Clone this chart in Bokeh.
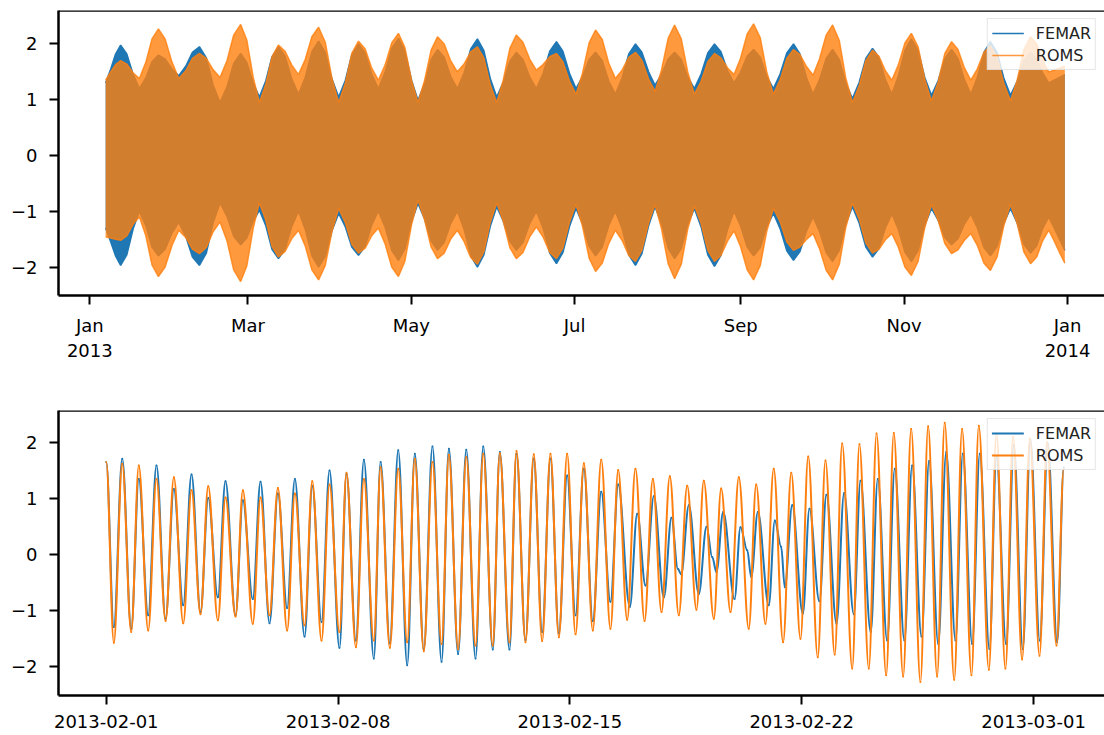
from bokeh.plotting import figure
from bokeh.layouts import column
from bokeh.models import FixedTicker, CustomJSTickFormatter, Range1d, Legend, LegendItem, Span
from bokeh.embed import file_html
from bokeh.resources import INLINE

# ---------------- top panel: whole year 2013 (day of year, 0 = 1 Jan 2013)
# envelopes (highest / lowest water) of the tidal signal
env_days = [5.9, 7.8, 9.6, 11.5, 13.8, 16.2, 18.5, 20.9, 23.2, 25.6, 28.1, 30.7,
            33.2, 35.8, 38.3, 40.9, 43.5, 46.0, 48.6, 51.2, 53.7, 56.3, 58.6, 61.0,
            63.3, 65.7, 68.0, 70.4, 72.9, 75.4, 77.9, 80.4, 82.9, 85.4, 87.9, 90.4,
            92.9, 95.4, 97.8, 100.3, 102.8, 105.2, 107.7, 110.2, 112.7, 115.2, 117.6, 120.1,
            122.5, 124.9, 127.4, 129.8, 132.3, 134.7, 137.2, 139.7, 142.2, 144.7, 147.1, 149.5,
            151.9, 154.3, 156.8, 159.2, 161.7, 164.2, 166.7, 169.2, 171.7, 174.2, 176.6, 179.1,
            181.5, 183.9, 186.4, 188.8, 191.3, 193.7, 196.2, 198.7, 201.2, 203.7, 206.1, 208.6,
            211.0, 213.4, 215.9, 218.3, 220.8, 223.2, 225.7, 228.2, 230.7, 233.2, 235.6, 238.1,
            240.5, 242.9, 245.4, 247.8, 250.3, 252.7, 255.2, 257.7, 260.2, 262.7, 265.1, 267.6,
            270.0, 272.4, 274.9, 277.3, 279.8, 282.2, 284.7, 287.2, 289.7, 292.2, 294.6, 297.0,
            299.4, 301.8, 304.3, 306.7, 309.2, 311.7, 314.2, 316.7, 319.2, 321.7, 324.1, 326.5,
            328.9, 331.3, 333.8, 336.2, 338.7, 341.2, 343.7, 346.2, 348.7, 351.2, 353.5, 355.7,
            358.0, 360.0, 362.0, 364.0]
roms_high = [1.35, 1.50, 1.63, 1.70, 1.64, 1.48, 1.38, 1.67, 2.09, 2.27, 2.09, 1.67,
             1.38, 1.52, 1.74, 1.83, 1.74, 1.54, 1.40, 1.70, 2.16, 2.35, 2.07, 1.40,
             0.95, 1.28, 1.77, 1.98, 1.87, 1.62, 1.45, 1.72, 2.13, 2.30, 2.03, 1.38,
             0.95, 1.30, 1.83, 2.05, 1.91, 1.57, 1.35, 1.62, 2.02, 2.19, 1.94, 1.35,
             0.95, 1.33, 1.89, 2.13, 2.00, 1.70, 1.50, 1.64, 1.86, 1.95, 1.75, 1.27,
             0.95, 1.34, 1.92, 2.16, 2.03, 1.73, 1.53, 1.63, 1.77, 1.83, 1.68, 1.33,
             1.10, 1.47, 2.02, 2.25, 2.08, 1.66, 1.38, 1.53, 1.76, 1.85, 1.71, 1.37,
             1.15, 1.53, 2.10, 2.34, 2.09, 1.50, 1.10, 1.33, 1.68, 1.83, 1.75, 1.57,
             1.45, 1.74, 2.18, 2.36, 2.11, 1.50, 1.10, 1.36, 1.74, 1.90, 1.81, 1.59,
             1.44, 1.73, 2.16, 2.34, 2.06, 1.39, 0.95, 1.25, 1.70, 1.89, 1.78, 1.52,
             1.35, 1.62, 2.02, 2.19, 1.95, 1.37, 0.98, 1.32, 1.83, 2.04, 1.90, 1.57,
             1.35, 1.55, 1.85, 1.97, 1.77, 1.30, 0.98, 1.35, 1.90, 2.13, 2.00, 1.70,
             1.50, 1.53, 1.57, 1.60]
roms_low = [-1.46, -1.48, -1.50, -1.52, -1.44, -1.23, -1.10, -1.44, -1.96, -2.17, -2.00, -1.61,
            -1.34, -1.47, -1.68, -1.76, -1.65, -1.37, -1.19, -1.53, -2.05, -2.26, -1.98, -1.30,
            -0.85, -1.16, -1.63, -1.82, -1.72, -1.49, -1.34, -1.62, -2.05, -2.23, -1.97, -1.36,
            -0.95, -1.21, -1.59, -1.75, -1.66, -1.44, -1.30, -1.58, -2.00, -2.17, -1.90, -1.24,
            -0.80, -1.14, -1.64, -1.85, -1.75, -1.50, -1.34, -1.54, -1.83, -1.95, -1.73, -1.20,
            -0.85, -1.17, -1.65, -1.85, -1.74, -1.46, -1.28, -1.46, -1.74, -1.85, -1.66, -1.19,
            -0.88, -1.26, -1.84, -2.08, -1.93, -1.58, -1.34, -1.52, -1.79, -1.90, -1.70, -1.21,
            -0.88, -1.31, -1.94, -2.21, -1.95, -1.32, -0.90, -1.22, -1.70, -1.90, -1.79, -1.53,
            -1.35, -1.63, -2.05, -2.23, -1.97, -1.36, -0.95, -1.19, -1.55, -1.70, -1.64, -1.50,
            -1.40, -1.67, -2.06, -2.23, -1.95, -1.29, -0.85, -1.14, -1.57, -1.75, -1.68, -1.51,
            -1.40, -1.64, -2.00, -2.15, -1.90, -1.29, -0.88, -1.16, -1.58, -1.76, -1.69, -1.52,
            -1.40, -1.61, -1.93, -2.06, -1.82, -1.26, -0.88, -1.22, -1.73, -1.94, -1.82, -1.53,
            -1.34, -1.53, -1.74, -1.93]
femar_high = [1.30, 1.55, 1.82, 1.98, 1.82, 1.45, 1.20, 1.39, 1.68, 1.80, 1.73, 1.55,
              1.43, 1.60, 1.85, 1.95, 1.75, 1.27, 0.95, 1.23, 1.65, 1.83, 1.67, 1.30,
              1.05, 1.34, 1.77, 1.95, 1.78, 1.37, 1.10, 1.40, 1.86, 2.05, 1.85, 1.37,
              1.05, 1.35, 1.81, 2.00, 1.84, 1.46, 1.20, 1.49, 1.92, 2.10, 1.88, 1.35,
              0.99, 1.28, 1.72, 1.90, 1.76, 1.42, 1.20, 1.48, 1.91, 2.09, 1.88, 1.38,
              1.05, 1.31, 1.69, 1.85, 1.72, 1.41, 1.20, 1.47, 1.87, 2.04, 1.87, 1.47,
              1.20, 1.41, 1.72, 1.85, 1.70, 1.34, 1.10, 1.39, 1.82, 2.00, 1.85, 1.50,
              1.26, 1.45, 1.73, 1.85, 1.72, 1.41, 1.20, 1.46, 1.84, 2.00, 1.86, 1.52,
              1.30, 1.49, 1.78, 1.90, 1.76, 1.42, 1.20, 1.46, 1.84, 2.00, 1.82, 1.39,
              1.10, 1.36, 1.74, 1.90, 1.72, 1.30, 1.02, 1.31, 1.74, 1.92, 1.76, 1.36,
              1.10, 1.42, 1.89, 2.09, 1.89, 1.40, 1.08, 1.34, 1.74, 1.90, 1.74, 1.36,
              1.10, 1.40, 1.85, 2.04, 1.85, 1.39, 1.08, 1.33, 1.70, 1.85, 1.74, 1.48,
              1.30, 1.35, 1.40, 1.45]
femar_low = [-1.30, -1.55, -1.80, -1.97, -1.78, -1.31, -1.00, -1.26, -1.64, -1.80, -1.68, -1.39,
             -1.20, -1.45, -1.82, -1.97, -1.75, -1.21, -0.85, -1.09, -1.45, -1.60, -1.48, -1.18,
             -0.98, -1.26, -1.68, -1.85, -1.68, -1.27, -1.00, -1.32, -1.80, -2.00, -1.81, -1.35,
             -1.04, -1.28, -1.64, -1.79, -1.63, -1.25, -1.00, -1.28, -1.70, -1.88, -1.68, -1.19,
             -0.86, -1.13, -1.53, -1.70, -1.56, -1.22, -1.00, -1.32, -1.80, -2.00, -1.78, -1.27,
             -0.92, -1.17, -1.54, -1.70, -1.56, -1.22, -1.00, -1.30, -1.75, -1.94, -1.74, -1.27,
             -0.95, -1.22, -1.63, -1.80, -1.64, -1.26, -1.00, -1.31, -1.78, -1.97, -1.76, -1.26,
             -0.92, -1.22, -1.66, -1.85, -1.67, -1.24, -0.95, -1.28, -1.78, -1.99, -1.79, -1.32,
             -1.00, -1.26, -1.64, -1.80, -1.65, -1.28, -1.04, -1.31, -1.71, -1.88, -1.72, -1.35,
             -1.10, -1.36, -1.74, -1.90, -1.70, -1.23, -0.92, -1.21, -1.64, -1.82, -1.67, -1.30,
             -1.05, -1.32, -1.73, -1.90, -1.71, -1.25, -0.95, -1.16, -1.47, -1.60, -1.49, -1.23,
             -1.05, -1.29, -1.65, -1.80, -1.63, -1.22, -0.95, -1.21, -1.59, -1.75, -1.62, -1.31,
             -1.10, -1.30, -1.50, -1.70]
year_tick_days = [0, 59, 120, 181, 243, 304, 365]
year_tick_labels = ["Jan\n2013", "Mar", "May", "Jul", "Sep", "Nov", "Jan\n2014"]

# ---------------- bottom panel: February 2013 (hours from 2013-02-01 00:00)
# high and low waters
roms_hours = [0, 5.5, 11.6, 18.1, 23.6, 30.4, 36.4, 43.0, 49.0, 55.8,
              61.8, 68.3, 73.9, 80.9, 86.4, 93.7, 99.0, 106.2, 111.8, 118.3,
              124.4, 131.1, 136.7, 143.7, 149.3, 156.0, 161.8, 169.0, 174.1, 180.9,
              186.7, 193.9, 198.8, 205.5, 211.6, 218.1, 223.6, 230.1, 236.4, 243.0,
              248.3, 255.0, 260.9, 267.6, 273.2, 280.1, 285.2, 292.2, 297.3, 303.8,
              309.8, 315.9, 321.9, 328.0, 334.0, 340.1, 346.1, 352.6, 358.7, 365.4,
              371.0, 377.5, 383.5, 390.1, 396.1, 402.4, 408.4, 414.9, 421.0, 427.7,
              433.0, 440.3, 445.6, 452.4, 458.4, 465.6, 471.0, 477.7, 483.7, 490.5,
              496.4, 503.1, 508.7, 515.6, 521.2, 527.9, 533.3, 540.6, 545.8, 552.6,
              558.2, 565.2, 570.7, 577.5, 583.3, 590.0, 595.6, 602.1, 607.6, 614.5,
              620.2, 627.0, 632.3, 639.6, 645.1, 651.6, 657.2, 663.7, 669.3, 676.3,
              681.8, 688.6, 693.9]
roms_level = [1.65, -1.57, 1.62, -1.38, 1.59, -1.35, 1.35, -1.18, 1.38, -1.22,
              1.15, -1.06, 1.22, -1.17, 1.02, -1.10, 1.15, -1.23, 1.02, -1.08,
              1.19, -1.35, 1.09, -1.26, 1.31, -1.53, 1.25, -1.38, 1.46, -1.65,
              1.35, -1.53, 1.56, -1.66, 1.53, -1.56, 1.71, -1.72, 1.65, -1.59,
              1.78, -1.68, 1.74, -1.62, 1.80, -1.62, 1.81, -1.56, 1.85, -1.56,
              1.79, -1.54, 1.80, -1.47, 1.80, -1.42, 1.63, -1.35, 1.69, -1.32,
              1.51, -1.16, 1.53, -1.18, 1.35, -1.02, 1.40, -1.08, 1.23, -0.98,
              1.32, -1.14, 1.18, -1.02, 1.38, -1.32, 1.25, -1.23, 1.53, -1.56,
              1.46, -1.50, 1.75, -1.83, 1.68, -1.78, 1.98, -2.03, 1.97, -2.03,
              2.16, -2.15, 2.17, -2.17, 2.24, -2.27, 2.29, -2.17, 2.35, -2.23,
              2.24, -2.15, 2.30, -2.05, 2.15, -2.03, 2.10, -1.87, 2.07, -1.80,
              2.01, -1.62, 1.53]
femar_hours = [0, 5.5, 11.6, 18.1, 23.6, 30.4, 36.4, 43.0, 49.0, 55.8,
               61.8, 68.3, 73.9, 80.9, 86.4, 93.7, 99.0, 106.2, 111.8, 118.3,
               124.4, 131.1, 136.7, 143.7, 149.3, 156.0, 161.8, 169.0, 174.1, 180.9,
               186.7, 193.9, 198.8, 205.5, 211.6, 218.1, 223.6, 230.1, 236.4, 243.0,
               248.3, 255.0, 260.9, 267.6, 273.2, 280.1, 285.2, 292.2, 297.3, 303.8,
               309.8, 315.9, 321.9, 328.0, 334.0, 340.1, 346.1, 352.6, 358.7, 365.4,
               371.0, 379.4, 384.8, 390.8, 396.8, 404.1, 409.6, 414.2, 416.6, 422.2,
               429.4, 435.0, 439.1, 442.2, 447.1, 455.3, 459.6, 464.5, 467.4, 472.2,
               480.1, 484.5, 489.1, 491.7, 497.1, 504.8, 509.6, 516.8, 521.9, 529.2,
               534.7, 541.7, 546.6, 554.0, 559.1, 565.9, 571.4, 578.4, 584.0, 590.8,
               596.3, 602.9, 608.7, 615.4, 620.7, 627.5, 633.0, 640.0, 645.1, 652.1,
               657.7, 664.2, 669.7, 676.5, 682.3, 689.1, 693.9]
femar_level = [1.65, -1.29, 1.71, -1.32, 1.35, -1.08, 1.59, -1.14, 1.17, -0.90,
               1.43, -1.02, 1.01, -0.76, 1.31, -1.08, 0.97, -0.79, 1.30, -1.22,
               1.09, -0.95, 1.35, -1.46, 1.22, -1.20, 1.50, -1.66, 1.44, -1.53,
               1.69, -1.85, 1.65, -1.58, 1.86, -1.97, 1.80, -1.69, 1.93, -1.91,
               1.89, -1.77, 1.87, -1.85, 1.93, -1.69, 1.83, -1.69, 1.80, -1.52,
               1.71, -1.38, 1.71, -1.40, 1.41, -1.08, 1.53, -1.18, 1.12, -0.84,
               1.25, -0.93, 0.73, -0.55, 1.04, -0.76, 0.66, -0.25, -0.35, 0.88,
               -0.70, 0.50, -0.04, -0.31, 0.76, -0.79, 0.49, 0.08, -0.40, 0.76,
               -0.90, 0.61, 0.14, -0.58, 0.88, -1.05, 0.82, -0.83, 1.07, -1.23,
               1.10, -1.06, 1.32, -1.38, 1.35, -1.53, 1.53, -1.53, 1.59, -1.46,
               1.67, -1.59, 1.83, -1.53, 1.80, -1.59, 1.80, -1.68, 1.75, -1.59,
               1.95, -1.68, 2.05, -1.53, 1.98, -1.56, 1.56]
month_tick_hours = [0, 168, 336, 504, 672]
month_tick_labels = ["2013-02-01", "2013-02-08", "2013-02-15", "2013-02-22", "2013-03-01"]

y_ticks = [-2, -1, 0, 1, 2]
series_names = ["FEMAR", "ROMS"]

for arr in (roms_high, roms_low, femar_high, femar_low):
    assert len(arr) == len(env_days), len(arr)
assert len(roms_hours) == len(roms_level)
assert len(femar_hours) == len(femar_level)

FONT = "DejaVu Sans"
BLUE = "#1f77b4"
ORANGE = "#ff7f0e"


def style(p, xticks, xlabels, ytop):
    p.xgrid.visible = False
    p.ygrid.visible = False
    p.outline_line_color = None
    p.background_fill_color = "white"
    p.border_fill_color = "white"
    for ax in (p.xaxis[0], p.yaxis[0]):
        ax.axis_line_width = 2.5
        ax.axis_line_color = "black"
        ax.major_tick_line_width = 2
        ax.major_tick_line_color = "black"
        ax.major_tick_out = 9
        ax.major_tick_in = 0
        ax.minor_tick_line_color = None
        ax.major_label_text_font = FONT
        ax.major_label_text_font_size = "18px"
        ax.major_label_text_color = "black"
    p.xaxis[0].major_label_standoff = 10
    p.yaxis[0].major_label_standoff = 12
    p.xaxis[0].ticker = FixedTicker(ticks=xticks)
    p.xaxis[0].major_label_overrides = {t: l for t, l in zip(xticks, xlabels)}
    p.yaxis[0].ticker = FixedTicker(ticks=y_ticks)
    p.yaxis[0].formatter = CustomJSTickFormatter(
        code="return tick < 0 ? '\\u2212' + Math.abs(tick) : String(tick);")
    p.add_layout(Span(location=ytop, dimension="width", line_color="black", line_width=2.5))


def add_legend(p, renderers):
    legend = Legend(items=[LegendItem(label=n, renderers=[r]) for n, r in zip(series_names, renderers)],
                    location="top_right", label_text_font=FONT, label_text_font_size="16px",
                    label_text_color="#222222",
                    glyph_width=32, glyph_height=20, label_height=20, label_standoff=12,
                    padding=4, spacing=2, margin=8, border_line_color="#cccccc",
                    border_line_width=1, background_fill_color="white", background_fill_alpha=0.8)
    p.add_layout(legend)


def smooth_line(p, xs, ys, color, width):
    # each step between two consecutive read values is drawn as a smooth curve
    x0, x1, y0, y1 = xs[:-1], xs[1:], ys[:-1], ys[1:]
    k = 0.36
    cx0 = [a + k * (b - a) for a, b in zip(x0, x1)]
    cx1 = [b - k * (b - a) for a, b in zip(x0, x1)]
    return p.bezier(x0=x0, y0=y0, x1=x1, y1=y1, cx0=cx0, cy0=y0, cx1=cx1, cy1=y1,
                    line_color=color, line_width=width, line_cap="round")


# ---- top figure
p1 = figure(width=1104, height=370, x_range=Range1d(-11.7, 378.8), y_range=Range1d(-2.51, 2.60),
            output_backend="svg", toolbar_location=None,
            min_border_left=58, min_border_right=0, min_border_top=10, min_border_bottom=75)
p1.varea(x=env_days, y1=femar_low, y2=femar_high, fill_color=BLUE)
f_hi = p1.line(env_days, femar_high, line_color=BLUE, line_width=1.5)
p1.line(env_days, femar_low, line_color=BLUE, line_width=1.5)
p1.varea(x=env_days, y1=roms_low, y2=roms_high, fill_color=ORANGE, fill_alpha=0.8)
r_hi = p1.line(env_days, roms_high, line_color=ORANGE, line_alpha=0.8, line_width=1.5)
p1.line(env_days, roms_low, line_color=ORANGE, line_alpha=0.8, line_width=1.5)
style(p1, year_tick_days, year_tick_labels, 2.60)
add_legend(p1, [f_hi, r_hi])

# ---- bottom figure
p2 = figure(width=1104, height=365, x_range=Range1d(-34.6, 723.4), y_range=Range1d(-2.51, 2.57),
            output_backend="svg", toolbar_location=None,
            min_border_left=58, min_border_right=0, min_border_top=40, min_border_bottom=40)
f_line = smooth_line(p2, femar_hours, femar_level, BLUE, 2.0)
r_line = smooth_line(p2, roms_hours, roms_level, ORANGE, 2.0)
style(p2, month_tick_hours, month_tick_labels, 2.57)
add_legend(p2, [f_line, r_line])

layout = column(p1, p2)
open("out.html", "w").write(file_html(layout, INLINE))
